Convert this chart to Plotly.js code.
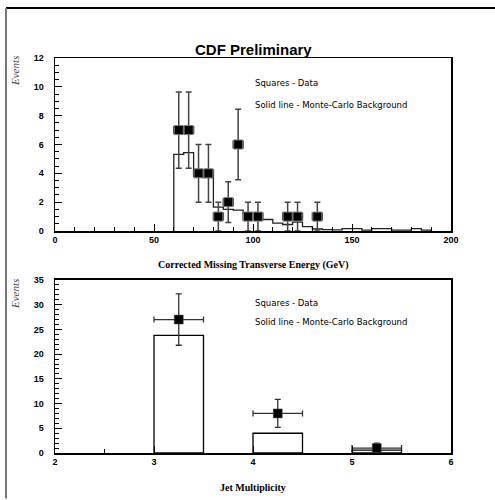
<!DOCTYPE html>
<html>
<head>
<meta charset="utf-8">
<script src="https://cdn.plot.ly/plotly-3.0.1.min.js"></script>
<style>html,body{margin:0;padding:0;background:#fff;}#chart{width:495px;height:500px;}</style>
</head>
<body>
<div id="chart"></div>
<script>
// ---- Top panel: Corrected Missing Transverse Energy ----
const metBinEdges = [60,65,70,75,80,85,90,95,100,105,110,115,120,125,130,135,140,145,150,155,160,165,170,175,180,185,190];
const metMC = [5.32,5.43,4.15,3.7,1.65,1.5,1.45,1.25,0.8,0.8,0.55,0.45,0.62,0.3,0.14,0.1,0.08,0.16,0.16,0.06,0.16,0.16,0.06,0.06,0.16,0.06];
const metDataX = [62.5,67.5,72.5,77.5,82.5,87.5,92.5,97.5,102.5,117.5,122.5,132.5];
const metDataY = [7,7,4,4,1,2,6,1,1,1,1,1];
const metDataErrY = [2.65,2.65,2,2,1,1.41,2.45,1,1,1,1,1];
const metDataErrX = [2.5,2.5,2.5,2.5,2.5,2.5,2.5,2.5,2.5,2.5,2.5,2.5];

// ---- Bottom panel: Jet Multiplicity ----
const jetMCX = [3.25,4.25,5.25];
const jetMC = [23.8,4,0.6];
const jetMCWidth = [0.5,0.5,0.5];
const jetDataX = [3.25,4.25,5.25];
const jetDataY = [27,8,1];
const jetDataErrY = [5.2,2.83,1];
const jetDataErrX = [0.25,0.25,0.25];

const topTicks = [0,50,100,150,200];
const botTicks = [2,3,4,5,6];

const stepX = [metBinEdges[0]].concat(metBinEdges);
const stepY = [0].concat(metMC).concat([0]);

const traces = [
  {x: stepX, y: stepY, type:'scatter', mode:'lines', line:{shape:'hv', color:'#222', width:1.3}, xaxis:'x', yaxis:'y', hoverinfo:'none'},
  {x: metDataX, y: metDataY, type:'scatter', mode:'markers', marker:{symbol:'square', size:9, color:'#000', line:{color:'#777', width:1}},
   error_y:{type:'data', array: metDataErrY, visible:true, color:'#444', thickness:1.5, width:3},
   error_x:{type:'data', array: metDataErrX, visible:true, color:'#444', thickness:1.5, width:4},
   xaxis:'x', yaxis:'y'},
  {x: jetMCX, y: jetMC, width: jetMCWidth, type:'bar', marker:{color:'rgba(255,255,255,0)', line:{color:'#000', width:1.3}}, xaxis:'x2', yaxis:'y2'},
  {x: jetDataX, y: jetDataY, type:'scatter', mode:'markers', marker:{symbol:'square', size:9, color:'#000', line:{color:'#555', width:0.5}},
   error_y:{type:'data', array: jetDataErrY, visible:true, color:'#333', thickness:1.3, width:3},
   error_x:{type:'data', array: jetDataErrX, visible:true, color:'#333', thickness:1.3, width:3},
   xaxis:'x2', yaxis:'y2'}
];

const tickFont = {family:'Liberation Sans, Arial, sans-serif', size:9, color:'#000', weight:'bold'};
function axisBase(extra){
  return Object.assign({
    showgrid:false, zeroline:false, showline:true, linecolor:'#000', linewidth:1.5, mirror:true,
    ticks:'inside', ticklen:7, tickwidth:1, tickcolor:'#000', tickfont: tickFont, fixedrange:true
  }, extra);
}

const annFont = {family:'DejaVu Sans, sans-serif', size:8.5, color:'#000'};
const layout = {
  width:495, height:500,
  margin:{l:55, r:44, t:58, b:47},
  paper_bgcolor:'#fff', plot_bgcolor:'#fff',
  showlegend:false,
  xaxis: axisBase({range:[0,200], tickvals: topTicks, anchor:'y', domain:[0,1],
    minor:{dtick:10, ticks:'inside', ticklen:4, tickcolor:'#000'}}),
  yaxis: axisBase({range:[0,12], dtick:2, anchor:'x', domain:[0.562,1], ticklabelstandoff:8,
    minor:{dtick:0.5, ticks:'inside', ticklen:4, tickcolor:'#000'}}),
  xaxis2: axisBase({range:[2,6], tickvals: botTicks, anchor:'y2', domain:[0,1],
    minor:{dtick:0.5, ticks:'inside', ticklen:4, tickcolor:'#000'}}),
  yaxis2: axisBase({range:[0,35], dtick:5, anchor:'x2', domain:[0,0.438], ticklabelstandoff:8,
    minor:{dtick:1, ticks:'inside', ticklen:4, tickcolor:'#000'}}),
  shapes:[
    {type:'line', xref:'paper', yref:'paper', x0:-0.1237, x1:1.12, y0:1.1266, y1:1.1266, line:{color:'#000', width:2}},
    {type:'line', xref:'paper', yref:'paper', x0:-0.1237, x1:-0.1237, y0:1.1266, y1:-0.115, line:{color:'#777', width:2}}
  ],
  annotations:[
    {text:'CDF Preliminary', xref:'paper', yref:'paper', x:0.5, y:1, xanchor:'center', yanchor:'bottom', yshift:-2, showarrow:false,
     font:{family:'Liberation Sans, Arial, sans-serif', size:15, color:'#000', weight:'bold'}},
    {text:'Squares - Data', xref:'x', yref:'y', x:100, y:10.26, xanchor:'left', yanchor:'middle', showarrow:false, font:annFont},
    {text:'Solid line - Monte-Carlo Background', xref:'x', yref:'y', x:100, y:8.74, xanchor:'left', yanchor:'middle', showarrow:false, font:annFont},
    {text:'Squares - Data', xref:'x2', yref:'y2', x:4, y:30.3, xanchor:'left', yanchor:'middle', showarrow:false, font:annFont},
    {text:'Solid line - Monte-Carlo Background', xref:'x2', yref:'y2', x:4, y:26.5, xanchor:'left', yanchor:'middle', showarrow:false, font:annFont},
    {text:'Corrected Missing Transverse Energy (GeV)', xref:'paper', yref:'paper', x:0.5, y:0.476, xanchor:'center', yanchor:'middle', showarrow:false,
     font:{family:'Liberation Serif, Times New Roman, serif', size:10, color:'#000', weight:'bold'}},
    {text:'Jet Multiplicity', xref:'paper', yref:'paper', x:0.5, y:-0.0886, xanchor:'center', yanchor:'middle', showarrow:false,
     font:{family:'Liberation Serif, Times New Roman, serif', size:10, color:'#000', weight:'bold'}},
    {text:'<i>Events</i>', xref:'paper', yref:'paper', x:-0.101, y:0.967, xanchor:'center', yanchor:'middle', textangle:-90, showarrow:false,
     font:{family:'Liberation Serif, Times New Roman, serif', size:11, color:'#444'}},
    {text:'<i>Events</i>', xref:'paper', yref:'paper', x:-0.101, y:0.4025, xanchor:'center', yanchor:'middle', textangle:-90, showarrow:false,
     font:{family:'Liberation Serif, Times New Roman, serif', size:11, color:'#444'}}
  ]
};

Plotly.newPlot('chart', traces, layout, {staticPlot:true, displayModeBar:false});
</script>
</body>
</html>
